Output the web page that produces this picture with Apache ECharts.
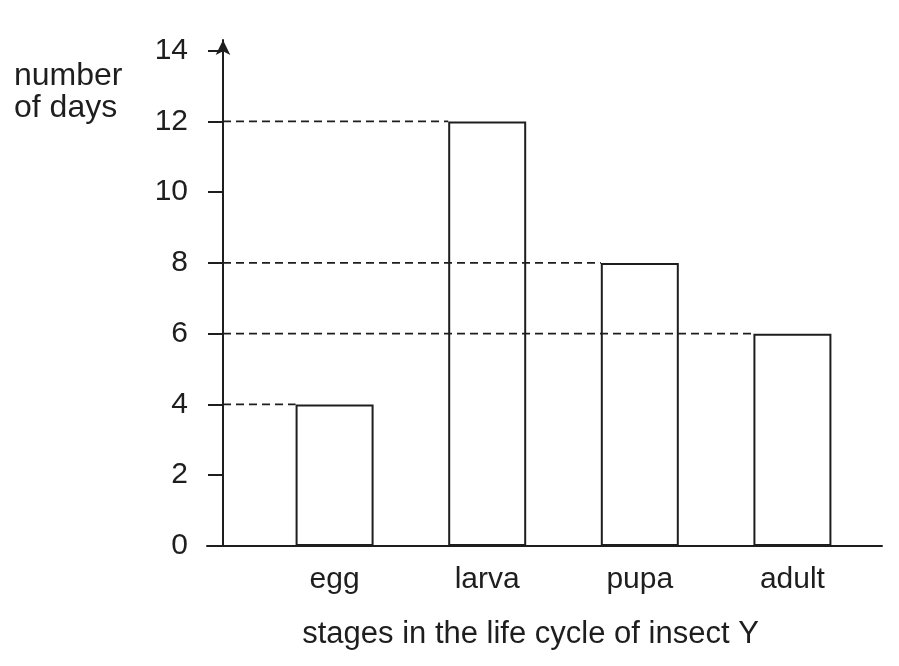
<!DOCTYPE html>
<html>
<head>
<meta charset="utf-8">
<script src="https://cdn.jsdelivr.net/npm/echarts@6/dist/echarts.min.js"></script>
<style>
html,body{margin:0;padding:0;background:#fff;}
#chart{width:899px;height:666px;}
</style>
</head>
<body>
<div id="chart"></div>
<script>
// ---- data ----
const stages = ['egg', 'larva', 'pupa', 'adult'];
const days = [4, 12, 8, 6];
const yTicks = [0, 2, 4, 6, 8, 10, 12, 14];
const stageIndex = [0, 1, 2, 3];

// ---- layout constants ----
const FONT = "'Liberation Sans', Arial, sans-serif";
const INK = '#1e1e1e';
const BAR_W = 78;
const GRID_LEFT = 207;
const Y_OFFSET = 16; // y-axis sits this far inside grid left

const barData = stageIndex.map(i => [i, days[i]]);

const chart = echarts.init(document.getElementById('chart'), null, {renderer: 'canvas'});
chart.setOption({
  animation: false,
  backgroundColor: '#ffffff',
  title: {
    text: 'number\nof days',
    left: 9,
    top: 55,
    textStyle: {fontFamily: FONT, fontSize: 32, fontWeight: 'normal', color: INK, lineHeight: 32}
  },
  grid: {left: GRID_LEFT, right: 17, top: 40, bottom: 120, containLabel: false},
  xAxis: {
    type: 'value',
    min: -0.836,
    max: 3.587,
    splitLine: {show: false},
    axisTick: {show: false},
    axisLine: {show: true, onZero: false, lineStyle: {color: INK, width: 2}},
    axisLabel: {
      show: true,
      customValues: stageIndex,
      formatter: v => stages[Math.round(v)] || '',
      fontFamily: FONT, fontSize: 30, color: INK, margin: 19
    },
    name: 'stages in the life cycle of insect Y',
    nameLocation: 'middle',
    nameGap: 73,
    nameTextStyle: {fontFamily: FONT, fontSize: 31, color: INK, padding: [0, 28, 0, 0]}
  },
  yAxis: {
    type: 'value',
    min: 0,
    max: 14.3,
    offset: -Y_OFFSET,
    splitLine: {show: false},
    axisLine: {
      show: true, onZero: false,
      symbol: ['none', 'arrow'], symbolSize: [11, 15], symbolOffset: [0, 0],
      lineStyle: {color: INK, width: 2}
    },
    axisTick: {show: true, inside: false, length: 15, customValues: yTicks, lineStyle: {color: INK, width: 2}},
    axisLabel: {show: true, customValues: yTicks, fontFamily: FONT, fontSize: 30, color: INK, margin: 35}
  },
  series: [
    {
      type: 'bar',
      data: barData,
      barWidth: BAR_W,
      itemStyle: {color: 'rgba(0,0,0,0)', borderColor: INK, borderWidth: 2},
      z: 2
    },
    {
      type: 'custom',
      data: barData,
      z: 3,
      renderItem: function (params, api) {
        const c = api.coord([api.value(0), api.value(1)]);
        const x1 = params.coordSys.x + Y_OFFSET;
        return {
          type: 'line',
          shape: {x1: x1, y1: c[1], x2: c[0] - BAR_W / 2, y2: c[1]},
          style: {stroke: INK, lineWidth: 1.8, lineDash: [8, 5]}
        };
      }
    }
  ]
});
</script>
</body>
</html>
